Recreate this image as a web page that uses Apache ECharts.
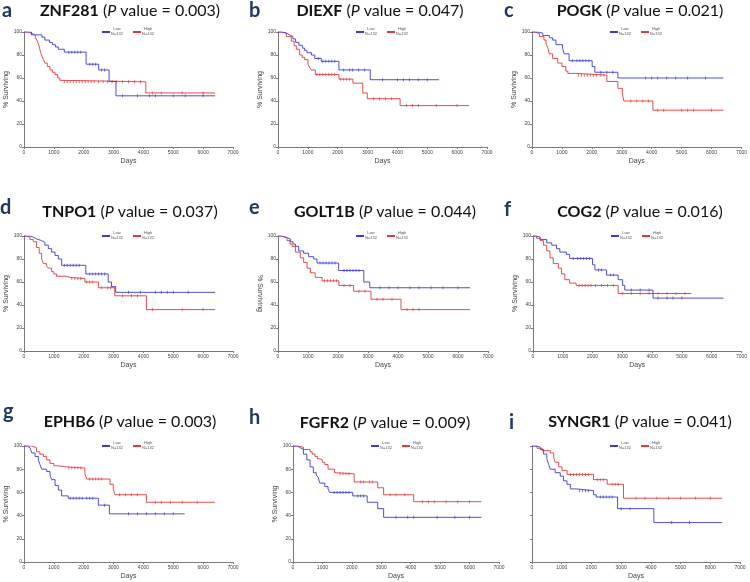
<!DOCTYPE html>
<html><head><meta charset="utf-8">
<script src="https://cdn.jsdelivr.net/npm/echarts@6/dist/echarts.min.js"></script>
<style>html,body{margin:0;padding:0;background:#fff}#c{width:750px;height:582px}</style>
</head><body><div id="c"></div>
<script>
// ---------- data (days, % surviving) ----------
const xTicks = [0,1000,2000,3000,4000,5000,6000,7000];
const yTicks = [0,20,40,60,80,100];
const genes = ['ZNF281','DIEXF','POGK','TNPO1','GOLT1B','COG2','EPHB6','FGFR2','SYNGR1'];
const pValues = ['0.003','0.047','0.021','0.037','0.044','0.016','0.003','0.009','0.041'];
const letters = ['a','b','c','d','e','f','g','h','i'];

const aLow = [[0,100],[250,97.5],[600,95.5],[700,93],[850,91],[950,89],[1050,87],[1150,85],[1350,82.5],[2080,72],[2500,67],[2850,57],[3080,44.5],[6400,44.5]];
const aHigh = [[0,100],[120,98.5],[300,97],[380,95],[430,93],[480,90],[520,86],[560,82],[600,79],[650,76],[700,73],[780,70],[870,67],[950,65],[1040,63],[1130,60],[1200,58],[1260,56.7],[4080,47],[6400,47]];
const aLowC = [1500,1600,1700,1800,1900,2200,2300,2400,2600,2700,3300,3800,4200,4400,5000,5400,6000];
const aHighC = [1350,1450,1550,1650,1750,1850,1950,2050,2150,2250,2350,2500,2650,2800,2950,3100,3300,3500,3700,3900,4300,4600,5300,6000];

const bLow = [[0,100],[170,99],[280,97.5],[390,96],[500,94],[590,91],[700,88.5],[815,86],[890,84],[970,82],[1120,80],[1230,77],[1450,74.5],[2040,67],[3090,58.5],[5390,58.5]];
const bHigh = [[0,100],[100,99],[280,96],[446,92],[540,88],[614,85],[725,80],[810,78],[893,76],[1004,72],[1060,69],[1116,67],[1250,63],[2040,59],[2510,55.5],[2840,47],[2990,42],[4090,36],[6400,36]];
const bLowC = [1350,1500,1600,1700,1800,1900,2200,2400,2500,2700,2900,3500,4000,4200,4400,4700,5000];
const bHighC = [1300,1400,1500,1600,1700,1800,1900,2100,2200,2300,2400,3200,3400,3600,3800,4300,4500,4700,5300,6000];

const cLow = [[0,100],[200,99],[360,97],[580,95],[690,93],[800,89],[1020,86],[1075,81],[1240,75],[2010,70],[2100,65],[2870,60],[6400,60]];
const cHigh = [[0,100],[100,98.5],[250,96],[400,93],[470,90],[530,86],[580,81],[690,77],[860,73],[1000,70],[1130,66],[1200,64],[1460,62.5],[2500,57],[2870,51],[3020,46],[3070,40],[4040,32],[6400,32]];
const cLowC = [1350,1500,1600,1700,1800,1900,2300,2500,2700,3800,4000,4200,4500,4800,5200,5800];
const cHighC = [1550,1650,1750,1850,1950,2050,2150,2300,2400,3300,3500,3700,3900,4200,4400,5000,5200,5400,6000];

const dLow = [[0,100],[200,99],[310,97.5],[420,96],[590,94.5],[700,92],[815,89],[925,86],[1040,83],[1150,80],[1260,74.5],[2070,67],[2820,60],[2930,56],[3070,51],[6400,51]];
const dHigh = [[0,100],[90,99],[200,97],[310,95],[420,90],[510,85],[590,80],[650,76],[750,74],[815,72],[925,69],[1000,67],[1090,65],[1430,64],[1540,63],[2040,60],[2490,55],[3040,48],[4100,36],[6400,36]];
const dLowC = [1350,1450,1550,1650,1750,1850,2200,2300,2400,2500,2600,2700,3500,3900,4400,4600,4800,5000,5500];
const dHighC = [1600,1700,1800,1900,2100,2200,2300,2600,2800,2900,3300,3600,3800,4300,5300,6000];

const eLow = [[0,100],[120,99],[245,97.5],[410,95],[500,93],[580,91],[690,87],[855,85],[1020,82],[1190,80],[1300,76.5],[2020,70],[2860,60],[3060,55],[6400,55]];
const eHigh = [[0,100],[120,98.5],[300,96],[400,93],[470,91],[580,86],[745,81],[855,77],[970,72],[1080,68],[1240,64],[1470,61],[2030,57],[2520,52],[3100,45],[4100,36],[6400,36]];
const eLowC = [1400,1500,1600,1700,1800,1900,2200,2300,2400,2500,2600,2700,3400,3700,4000,4400,4700,5100,5500,6000];
const eHighC = [1550,1650,1750,1850,1950,2200,2400,2700,2900,3300,3500,3800,4300,4500,4700];

const fLow = [[0,100],[100,99],[240,97],[460,94],[630,92],[790,89],[900,86],[1120,84],[1230,80.5],[2000,75],[2080,70.5],[2470,66],[2860,62],[3010,57],[3080,53],[4030,46],[6400,46]];
const fHigh = [[0,100],[120,98],[240,96],[350,92],[460,87],[570,81],[680,76],[850,72],[960,67],[1070,62],[1230,59],[1450,57],[2860,50],[5320,50]];
const fLowC = [1350,1500,1600,1700,1800,1900,2200,2300,2600,2700,3300,3600,3900,4200,4500,4700,5000];
const fHighC = [1550,1650,1750,1850,1950,2100,2300,2500,2700,3000,3300,3600,3900,4200,4500,4800,5100];

const gLow = [[0,100],[100,98.5],[200,97],[260,94],[370,91],[480,88],[535,84],[590,80],[760,78],[870,75],[925,71],[1040,66],[1150,62],[1260,57],[1480,55],[2490,49],[2860,41.5],[5380,41.5]];
const gHigh = [[0,100],[260,98.5],[420,95],[530,93],[650,91],[760,88],[870,85],[1000,83],[1090,82],[1430,81],[2040,76],[2100,71.5],[2880,67],[2990,63],[3050,58],[4100,51.5],[6400,51.5]];
const gLowC = [1550,1650,1750,1850,1950,2100,2200,2300,2700,3500,3800,4100,4400,4700,5000];
const gHighC = [1500,1600,1700,1800,1900,2200,2300,2400,2500,2600,3200,3400,3600,3800,4400,4600,4900,5300,5800];

const hLow = [[0,100],[150,98.5],[245,97],[355,93],[470,88],[580,82],[690,77],[790,75],[855,73],[910,68],[1080,65],[1190,63],[1245,60],[2030,57],[2520,51.5],[2880,46],[3080,38.5],[6400,38.5]];
const hHigh = [[0,100],[150,99],[355,97],[580,95],[650,93],[745,91],[830,89],[910,88],[1000,86],[1080,84],[1190,80],[1410,77],[1470,76],[2080,69],[2880,64],[3080,58],[4100,52],[6400,52]];
const hLowC = [1400,1500,1600,1700,1800,1900,2200,2300,2400,3500,3900,4100,4900,5500,6000];
const hHighC = [1600,1700,1800,1900,2300,2400,2600,2700,3300,3500,3800,4400,4600,4800,5200,5600,6000];

const iLow = [[0,100],[150,99],[280,97],[390,93],[500,89],[560,84],[615,80],[780,77],[950,74],[1060,70],[1175,67],[1290,63],[1510,61.5],[2070,58],[2160,56],[2880,46],[4100,34],[6400,34]];
const iHigh = [[0,100],[170,98],[340,96],[615,94],[730,90],[780,86],[900,82],[1010,79],[1180,75.5],[2070,71],[2530,67],[3080,55],[6400,55]];
const iLowC = [1600,1700,1800,1900,2300,2400,2500,2600,2700,3000,3300,4700,5300];
const iHighC = [1300,1400,1500,1600,1700,1800,1900,2200,2300,2400,2700,2800,2900,3500,3800,4200,4600,5000,5500,6000];

const lowCurves = [aLow,bLow,cLow,dLow,eLow,fLow,gLow,hLow,iLow];
const highCurves = [aHigh,bHigh,cHigh,dHigh,eHigh,fHigh,gHigh,hHigh,iHigh];
const lowCens = [aLowC,bLowC,cLowC,dLowC,eLowC,fLowC,gLowC,hLowC,iLowC];
const highCens = [aHighC,bHighC,cHighC,dHighC,eHighC,fHighC,gHighC,hHighC,iHighC];

// ---------- layout ----------
const grids = [
  {left:24,top:32,width:209,height:115},
  {left:278,top:32,width:209,height:115},
  {left:532,top:32,width:213,height:115},
  {left:24,top:236,width:209,height:115},
  {left:278,top:236,width:210,height:115},
  {left:533,top:236,width:212,height:115},
  {left:24,top:446,width:209,height:116},
  {left:293,top:446,width:206,height:116},
  {left:532,top:446,width:208,height:116}
];
const titlePos = [[130,11],[380,11],[640,11],[130,212],[385,212],[640,212],[130,422],[385,423],[640,422]];
const letterPos = [[2,11],[249,11],[504,11],[0,208],[249,208],[504,210],[3,412],[249,418],[509,423]];

const BLUE = '#3c3cd2', RED = '#e23b3b', AX = '#7a7a7a';
const FONT = 'Liberation Sans, DejaVu Sans, sans-serif';

function stepAt(curve, t){ let v = curve[0][1]; for (const p of curve){ if (p[0] <= t) v = p[1]; } return v; }

const option = {backgroundColor:'#fff', animation:false, grid:[], xAxis:[], yAxis:[], series:[], graphic:[]};

for (let k=0;k<9;k++){
  const g = grids[k];
  option.grid.push(Object.assign({containLabel:false}, g));
  option.xAxis.push({
    gridIndex:k, type:'value', min:xTicks[0], max:xTicks[xTicks.length-1], interval:1000,
    name:'Days', nameLocation:'middle', nameGap:11,
    nameTextStyle:{fontSize:7, color:'#444', fontFamily:FONT},
    axisLine:{lineStyle:{color:AX,width:1}}, axisTick:{length:2, lineStyle:{color:AX}},
    axisLabel:{fontSize:5, color:'#444', margin:3, fontFamily:FONT, showMaxLabel:true, formatter:v=>String(v)},
    splitLine:{show:false}
  });
  const showY = k !== 8;
  option.yAxis.push({
    gridIndex:k, type:'value', min:yTicks[0], max:yTicks[yTicks.length-1], interval:20,
    name: showY ? '% Surviving' : '', nameLocation:'middle', nameGap:14,
    nameRotate: k===4 ? -90 : 90,
    nameTextStyle:{fontSize:7, color:'#444', fontFamily:FONT},
    axisLine:{show:true, lineStyle:{color:AX,width:1}}, axisTick:{show:true,length:2, lineStyle:{color:AX}},
    axisLabel:{show:showY, fontSize:5, color:'#444', margin:2, fontFamily:FONT, formatter:v=>String(v)},
    splitLine:{show:false}
  });
  const curves = [[highCurves[k], highCens[k], RED],[lowCurves[k], lowCens[k], BLUE]];
  for (const [curve, cens, col] of curves){
    option.series.push({type:'line', xAxisIndex:k, yAxisIndex:k, step:'end', data:curve,
      showSymbol:false, symbol:'none', lineStyle:{color:col, width:1, opacity:0.9}, silent:true});
    option.series.push({type:'scatter', xAxisIndex:k, yAxisIndex:k,
      data:cens.map(t=>[t, stepAt(curve,t)]), symbol:'rect', symbolSize:[1,3],
      itemStyle:{color:col, opacity:0.7}, silent:true});
  }
  // legend
  const lx = g.left + 78, ly = g.top;
  [[0,'Low',BLUE],[31,'High',RED]].forEach(([dx,lab,col])=>{
    option.graphic.push({type:'line', shape:{x1:lx+dx,y1:ly,x2:lx+dx+8,y2:ly}, style:{stroke:col,lineWidth:2}});
    option.graphic.push({type:'text', x:lx+dx+15, y:ly-3, style:{text:lab, fill:'#555', align:'center', verticalAlign:'middle', font:'4px '+FONT}});
    option.graphic.push({type:'text', x:lx+dx+15, y:ly+2, style:{text:'N=132', fill:'#555', align:'center', verticalAlign:'middle', font:'4px '+FONT}});
  });
  // title
  option.graphic.push({type:'text', x:titlePos[k][0], y:titlePos[k][1], style:{
    text:'{b|'+genes[k]+'} ({i|P} value = '+pValues[k]+')',
    align:'center', verticalAlign:'middle', fill:'#111',
    fontSize:16, fontFamily:'Lato, sans-serif',
    rich:{b:{fontWeight:'bold', fontSize:16, fontFamily:'Lato, sans-serif', fill:'#111'},
          i:{fontStyle:'italic', fontSize:16, fontFamily:'Lato, sans-serif', fill:'#111'}}
  }});
  option.graphic.push({type:'text', x:letterPos[k][0], y:letterPos[k][1], style:{
    text:letters[k], fontSize:20, fontWeight:'bold', fontFamily:'Lato, sans-serif', fill:'#1f3864', verticalAlign:'middle'}});
}

const chart = echarts.init(document.getElementById('c'), null, {renderer:'canvas'});
chart.setOption(option);
</script></body></html>
